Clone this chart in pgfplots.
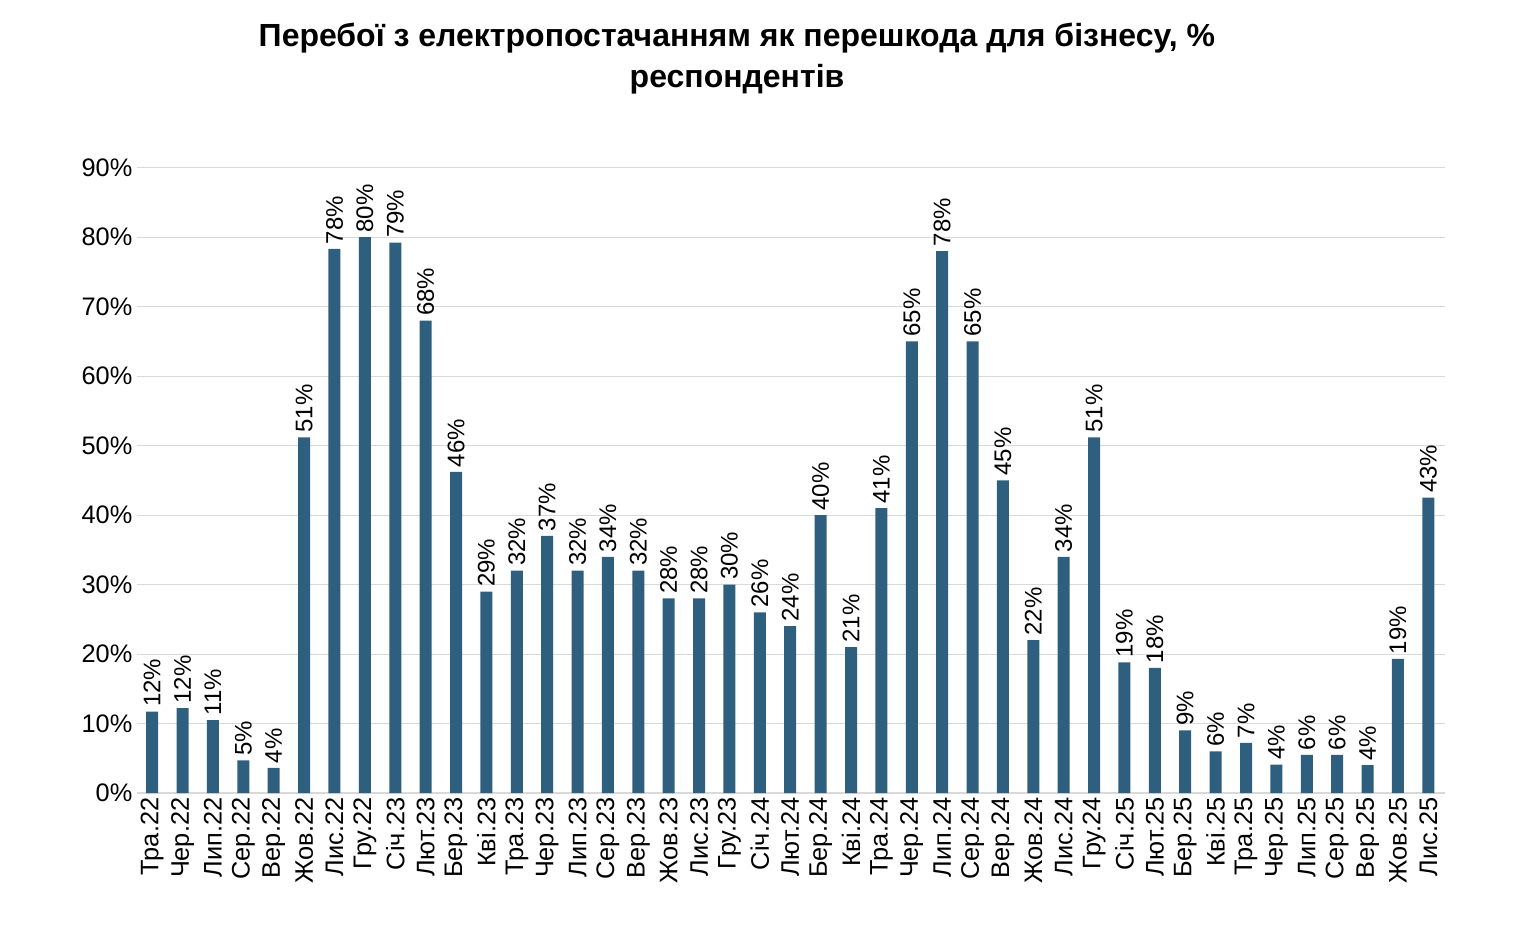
\documentclass[border=0pt]{standalone}
\usepackage{pgfplots}
\pgfplotsset{compat=1.18}
\usepackage{fontspec}
\setmainfont{Liberation Sans}
\definecolor{bar}{HTML}{2F5F7F}
\begin{document}
\begin{tikzpicture}
\path[use as bounding box] (-102.75pt,-101.25pt) rectangle (1040.25pt,594.75pt);
\begin{axis}[
  scale only axis, width=981pt, height=469pt,
  xmin=-0.5, xmax=42.55, ymin=0, ymax=90,
  ytick={0,10,...,90},
  yticklabel={\pgfmathprintnumber{\tick}\%},
  /pgf/number format/assume math mode=true,
  ymajorgrids, grid style={gray!30, line width=0.8pt},
  axis line style={draw=none}, tick style={draw=none},
  xtick={0,...,42},
  xticklabels={Тра.22,Чер.22,Лип.22,Сер.22,Вер.22,Жов.22,Лис.22,Гру.22,Січ.23,Лют.23,Бер.23,Кві.23,Тра.23,Чер.23,Лип.23,Сер.23,Вер.23,Жов.23,Лис.23,Гру.23,Січ.24,Лют.24,Бер.24,Кві.24,Тра.24,Чер.24,Лип.24,Сер.24,Вер.24,Жов.24,Лис.24,Гру.24,Січ.25,Лют.25,Бер.25,Кві.25,Тра.25,Чер.25,Лип.25,Сер.25,Вер.25,Жов.25,Лис.25},
  xticklabel style={rotate=90, anchor=east, font=\fontsize{19}{19}\selectfont},
  yticklabel style={font=\fontsize{19}{19}\selectfont},
  nodes near coords={\pgfmathprintnumber[fixed,precision=0]{\pgfplotspointmeta}\%},
  nodes near coords style={rotate=90, anchor=west, font=\fontsize{18}{18}\selectfont, /pgf/number format/assume math mode=true},
]
\addplot[ybar, bar width=9pt, fill=bar, draw=none] coordinates {
(0,11.7)(1,12.2)(2,10.5)(3,4.7)(4,3.6)(5,51.2)(6,78.3)(7,80)(8,79.2)(9,68)
(10,46.2)(11,29)(12,32)(13,37)(14,32)(15,34)(16,32)(17,28)(18,28)(19,30)
(20,26)(21,24)(22,40)(23,21)(24,41)(25,65)(26,78)(27,65)(28,45)(29,22)
(30,34)(31,51.2)(32,18.8)(33,18)(34,9)(35,6)(36,7.2)(37,4.1)(38,5.5)(39,5.5)
(40,4)(41,19.3)(42,42.5)};
\end{axis}
\node[font=\bfseries\fontsize{24}{31}\selectfont, align=center] at (450pt,551pt) {Перебої з електропостачанням як перешкода для бізнесу, \%\\респондентів};
\end{tikzpicture}
\end{document}
